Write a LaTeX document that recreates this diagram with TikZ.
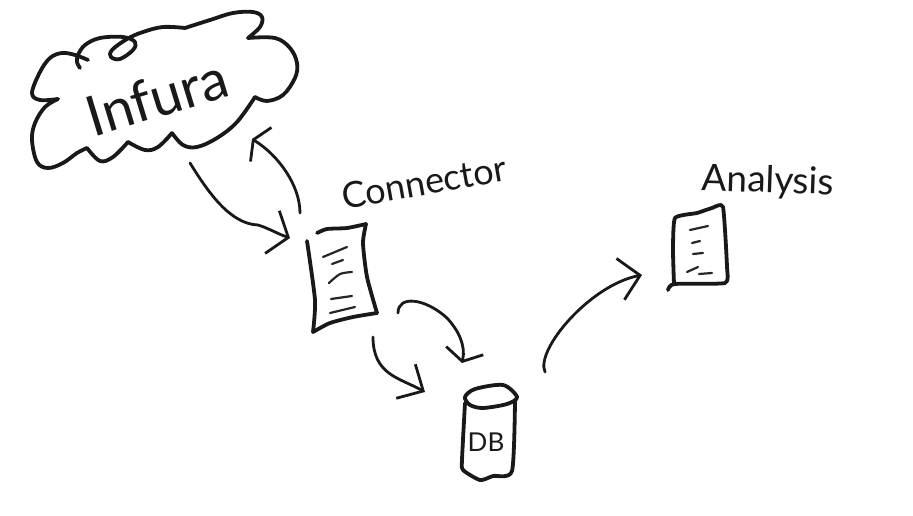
\documentclass[tikz,border=0pt]{standalone}
\usepackage{fontspec}
\setmainfont{Lato}
\usetikzlibrary{arrows.meta}
\begin{document}
\begin{tikzpicture}[x=1pt, y=-1pt, ink/.style = {draw=black!90, line width=3.8pt, line cap=round, line join=round},
    wire/.style = {draw=black!90, line width=2.8pt, line cap=round, line join=round},
    scribble/.style = {draw=black!85, line width=2.2pt, line cap=round},
    barb/.style 2 args = {-{Straight Barb[length=#1pt, width=#2pt, line width=2.8pt]}},
    hand/.style = {inner sep=0pt, text=black!90, font=\fontsize{#1}{#1}\selectfont}]

      \useasboundingbox (0,0) rectangle (913,516);

      % cloud
      \draw[ink] plot[smooth, tension=.6] coordinates {(88,60) (75,55) (62,53) (50,58) (40,72) (32,93) (40,100) (58,99)};
      \draw[ink] plot[smooth, tension=.6] coordinates {(58,99) (45,107) (35,123) (32,140) (37,162) (48,168) (63,163) (77,153) (87,148)};
      \draw[ink] plot[smooth, tension=.6] coordinates {(87,148) (100,161) (113,157) (128,142)};
      \draw[ink] plot[smooth, tension=.6] coordinates {(128,142) (145,150) (158,147) (172,133)};
      \draw[ink] plot[smooth, tension=.6] coordinates {(172,133) (183,145) (197,147) (217,138) (237,122) (255,97)};
      \draw[ink] plot[smooth, tension=.6] coordinates {(255,97) (267,101) (283,95) (295,78) (297,63) (290,48) (275,38) (248,38)};
      \draw[ink] plot[smooth, tension=.6] coordinates {(248,38) (260,27) (262,17) (253,12) (233,13) (210,20) (185,28)};
      \draw[ink] plot[smooth, tension=.6] coordinates {(185,28) (163,27) (143,32) (127,39) (112,50) (111,57) (120,59) (133,50) (135,42) (123,37) (100,38) (85,45) (78,55) (77,62) (80,68)};
      \node[hand=56, rotate=17] (Infura) at (157,97) {Infura};

      % connector doc
      \draw[ink] plot[smooth, tension=.4] coordinates {(317,233) (327,229) (347,228) (366,224)};
      \draw[ink] plot[smooth, tension=.4] coordinates {(366,224) (363,243) (367,277) (377,313)};
      \draw[ink] plot[smooth, tension=.4] coordinates {(377,313) (353,317) (330,323) (313,332)};
      \draw[ink] plot[smooth, tension=.4] coordinates {(313,332) (315,300) (307,241)};
      \foreach \xa/\ya/\xb/\yb in {323/257/347/247, 332/264/343/260, 331/299/352/296, 330/313/355/307}
        \draw[scribble] (\xa,\ya) -- (\xb,\yb);
      \draw[scribble] plot[smooth] coordinates {(329,283) (340,274) (352,272)};
      \node[hand=36, rotate=10] (Connector) at (424,182) {Connector};

      % db
      \draw[ink] plot[smooth cycle, tension=.5] coordinates {(465,397) (475,389) (503,385) (517,397) (507,404) (483,408) (470,405)};
      \draw[ink] plot[smooth, tension=.4] coordinates {(465,403) (462,460) (463,470) (480,480) (493,476) (512,471) (515,400)};
      \node[hand=26] (DB) at (486,442) {DB};

      % analysis doc
      \draw[ink] plot[smooth, tension=.3] coordinates {(668,290) (674,284) (725,283) (727,267) (723,207) (712,208) (697,213) (675,218) (673,250) (674,284)};
      \foreach \xa/\ya/\xb/\yb in {690/230/708/226, 692/243/700/241, 693/254/703/253, 687/272/698/267, 699/274/712/273}
        \draw[scribble] (\xa,\ya) -- (\xb,\yb);
      \node[hand=37, rotate=-2] (Analysis) at (768,182) {Analysis};

      % arrows
      \coordinate (Infura_out) at (190,163);
      \coordinate (Connector_in) at (290,238);
      \coordinate (Connector_out) at (300,213);
      \coordinate (Infura_in) at (252,139);
      \coordinate (Connector_low) at (373,337);
      \coordinate (DB_low) at (425,392);
      \coordinate (Connector_right) at (398,313);
      \coordinate (DB_top) at (462,363);
      \coordinate (DB_out) at (545,372);
      \coordinate (Analysis_in) at (642,275);

      \draw[wire, barb={17}{45}] (Infura_out) .. controls (208,192) and (230,224) .. (258,225) .. controls (268,228) and (278,234) .. (Connector_in);
      \draw[wire, barb={9}{40}] (Connector_out) .. controls (300,185) and (278,155) .. (Infura_in);
      \draw[wire, barb={20}{39}] (Connector_low) .. controls (373,375) and (400,378) .. (DB_low);
      \draw[wire, barb={11}{38}] (Connector_right) .. controls (398,295) and (425,298) .. (447,318) .. controls (458,330) and (466,345) .. (DB_top);
      \draw[wire, barb={20}{42}] (DB_out) .. controls (535,350) and (590,285) .. (Analysis_in);

\end{tikzpicture}
\end{document}
